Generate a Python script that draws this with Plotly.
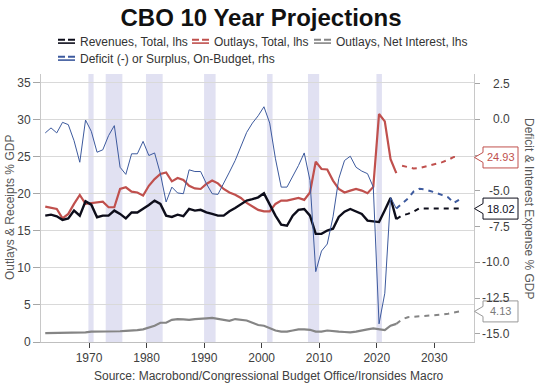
import plotly.graph_objects as go

# ---------------- data ----------------
hist_years = list(range(1962, 2024))
proj_years = list(range(2023, 2035))
outlays_proj_years = list(range(2024, 2035))

revenues_hist = [17.07, 17.2, 16.98, 16.5, 16.7, 17.75, 17.07, 19.0, 18.55, 16.85,
                 17.07, 17.07, 17.75, 17.3, 16.7, 17.5, 17.5, 17.97, 18.5, 19.1,
                 18.65, 17.07, 16.9, 17.2, 17.0, 17.97, 17.75, 17.85, 17.5, 17.3,
                 17.07, 17.07, 17.65, 18.1, 18.55, 19.1, 19.3, 19.54, 20.08, 18.65,
                 17.07, 15.86, 15.7, 17.07, 17.84, 17.97, 17.07, 14.6, 14.6, 15.05,
                 15.3, 16.9, 17.6, 17.97, 17.65, 17.3, 16.4, 16.35, 16.2, 17.8,
                 19.45, 16.6]
outlays_hist = [18.29, 18.1, 17.97, 16.7, 17.3, 18.65, 19.86, 18.65, 18.73, 18.87,
                18.96, 18.2, 18.2, 20.67, 20.9, 20.3, 20.2, 19.77, 21.1, 22.0,
                22.7, 22.9, 21.7, 22.15, 21.9, 21.1, 20.75, 20.67, 21.35, 21.8,
                21.43, 20.67, 20.2, 19.9, 19.46, 18.78, 18.29, 17.84, 17.65, 17.65,
                18.65, 19.1, 19.1, 19.3, 19.45, 19.2, 20.2, 24.36, 23.37, 23.3,
                21.8, 20.67, 20.2, 20.45, 20.67, 20.45, 20.1, 20.95, 30.8, 29.8,
                24.7, 22.8]
interest_hist = [1.2, 1.2, 1.2, 1.2, 1.2, 1.2, 1.25, 1.3, 1.4, 1.4,
                 1.35, 1.35, 1.45, 1.45, 1.5, 1.5, 1.6, 1.7, 1.9, 2.2,
                 2.6, 2.6, 3.0, 3.1, 3.05, 3.0, 3.1, 3.2, 3.2, 3.25,
                 3.1, 3.0, 2.85, 3.1, 3.0, 2.9, 2.6, 2.3, 2.2, 1.9,
                 1.55, 1.4, 1.4, 1.55, 1.7, 1.7, 1.65, 1.4, 1.4, 1.55,
                 1.45, 1.4, 1.35, 1.3, 1.4, 1.5, 1.7, 1.85, 1.75, 1.6,
                 2.2, 2.45]
deficit_hist = [-0.95, -0.6, -0.95, -0.21, -0.37, -1.49, -3.0, -0.05, -0.84, -2.3,
                -2.13, -1.14, -0.44, -3.35, -3.85, -2.41, -2.41, -1.54, -2.53, -2.35,
                -3.8, -5.78, -4.74, -5.15, -5.2, -3.53, -3.65, -3.65, -4.5, -5.2,
                -5.25, -4.5, -3.69, -2.88, -1.95, -0.91, -0.26, 0.25, 0.88, -0.26,
                -2.76, -4.74, -4.74, -3.99, -3.23, -2.35, -4.27, -10.65, -9.21, -8.72,
                -6.82, -4.15, -2.88, -2.58, -3.35, -3.62, -3.8, -4.74, -14.3, -12.16,
                -5.45, -6.24]

revenues_proj = [16.6, 17.1, 17.3, 17.6, 18.05, 18.05, 18.0, 18.0, 17.95, 18.0, 18.0, 18.02]
outlays_proj = [23.8, 23.6, 23.45, 23.5, 23.7, 23.8, 24.05, 24.3, 24.6, 25.0, 24.93]
interest_proj = [2.45, 3.05, 3.35, 3.4, 3.42, 3.45, 3.5, 3.6, 3.7, 3.82, 3.97, 4.13]
deficit_proj = [-6.24, -5.9, -5.55, -5.05, -4.85, -4.9, -5.0, -5.15, -5.3, -5.45, -5.85, -5.6]

recessions = [(1969.9, 1970.8), (1972.9, 1975.8), (1979.9, 1982.8), (1990.0, 1992.0),
              (2000.95, 2001.9), (2008.05, 2010.0), (2019.95, 2020.9)]

x_tick_vals = [1970, 1980, 1990, 2000, 2010, 2020, 2030]
left_tick_vals = [0, 5, 10, 15, 20, 25, 30, 35]
right_tick_vals = [2.5, 0.0, -2.5, -5.0, -7.5, -10.0, -12.5, -15.0]

names = ["Revenues, Total, lhs", "Outlays, Total, lhs", "Outlays, Net Interest, lhs",
         "Deficit (-) or Surplus, On-Budget, rhs"]

# ---------------- style ----------------
BLACK = "#0d0d1a"
RED = "#c0504d"
GREY = "#858585"
BLUE = "#3d5a9e"
BAND = "#e1e1f2"
FONT = "Liberation Sans, Arial, sans-serif"
TXT = "#404040"

W, H = 540, 384
L, R, T, B = 41, 474, 74, 342
X_OFF = 0.4  # annual points plotted part-way through the year
Y1_RANGE = [0, 36.2]
Y2_RANGE = [-15.57, 3.17]

def px_x(p):
    return (p - L) / (R - L)

def px_y(p):
    return (B - p) / (B - T)

def xs(years):
    return [y + X_OFF for y in years]

fig = go.Figure()

fig.add_trace(go.Scatter(x=xs(hist_years), y=deficit_hist, mode="lines", yaxis="y2",
                         line=dict(color=BLUE, width=1), name=names[3], showlegend=False))
fig.add_trace(go.Scatter(x=xs(proj_years), y=deficit_proj, mode="lines", yaxis="y2",
                         line=dict(color=BLUE, width=2, dash="5px,5px"), showlegend=False))
fig.add_trace(go.Scatter(x=xs(hist_years), y=interest_hist, mode="lines",
                         line=dict(color=GREY, width=2.2), name=names[2], showlegend=False))
fig.add_trace(go.Scatter(x=xs(proj_years), y=interest_proj, mode="lines",
                         line=dict(color=GREY, width=2, dash="5px,5px"), showlegend=False))
fig.add_trace(go.Scatter(x=xs(hist_years), y=outlays_hist, mode="lines",
                         line=dict(color=RED, width=2.2), name=names[1], showlegend=False))
fig.add_trace(go.Scatter(x=xs(outlays_proj_years), y=outlays_proj, mode="lines",
                         line=dict(color=RED, width=2, dash="5px,5px"), showlegend=False))
fig.add_trace(go.Scatter(x=xs(hist_years), y=revenues_hist, mode="lines",
                         line=dict(color=BLACK, width=2.4), name=names[0], showlegend=False))
fig.add_trace(go.Scatter(x=xs(proj_years), y=revenues_proj, mode="lines",
                         line=dict(color=BLACK, width=2, dash="5px,5px"), showlegend=False))

shapes = []
for a, b in recessions:
    shapes.append(dict(type="rect", xref="x", yref="paper", x0=a, x1=b, y0=0, y1=1,
                       fillcolor=BAND, line=dict(width=0), layer="below"))

annotations = []

# value callouts at last projection points
callouts = [(outlays_proj[-1], RED, RED), (revenues_proj[-1], BLACK, BLACK),
            (interest_proj[-1], "#999999", "#7a7a7a")]
px_per_unit = (B - T) / (Y1_RANGE[1] - Y1_RANGE[0])
hh = 10.5 / px_per_unit
dp = 5.0 / px_per_unit

# right-axis tick labels (right aligned); a label fully behind a callout box is hidden
for v in right_tick_vals:
    as_left = (v - Y2_RANGE[0]) / (Y2_RANGE[1] - Y2_RANGE[0]) * (Y1_RANGE[1] - Y1_RANGE[0])
    if any(abs(as_left - c[0]) < hh * 0.6 for c in callouts):
        continue
    annotations.append(dict(x=px_x(512), y=v, xref="paper", yref="y2", xanchor="right",
                            yanchor="middle", text=f"{v:.1f}", showarrow=False,
                            font=dict(family=FONT, size=12, color=TXT)))

for v, border, tcol in callouts:
    xt, xb, xr = px_x(474.5), px_x(483), px_x(518)
    path = (f"M {xt},{v} L {xb},{v + dp} L {xb},{v + hh} L {xr},{v + hh} "
            f"L {xr},{v - hh} L {xb},{v - hh} L {xb},{v - dp} Z")
    shapes.append(dict(type="path", xref="paper", yref="y", path=path,
                       fillcolor="white", line=dict(color=border, width=1), layer="above"))
    annotations.append(dict(x=px_x(500.5), y=v, xref="paper", yref="y", xanchor="center",
                            yanchor="middle", text=f"{v:.2f}", showarrow=False,
                            bgcolor="white", borderpad=1,
                            font=dict(family=FONT, size=11, color=tcol)))

# axis titles
annotations.append(dict(x=px_x(10), y=px_y(208), xref="paper", yref="paper",
                        text="Outlays & Receipts % GDP", textangle=-90, showarrow=False,
                        xanchor="center", yanchor="middle",
                        font=dict(family=FONT, size=12, color="#595959")))
annotations.append(dict(x=px_x(529), y=px_y(208), xref="paper", yref="paper",
                        text="Deficit & Interest Expense % GDP", textangle=90, showarrow=False,
                        xanchor="center", yanchor="middle",
                        font=dict(family=FONT, size=12, color="#595959")))

# source
annotations.append(dict(x=px_x(269), y=px_y(376), xref="paper", yref="paper",
                        text="Source: Macrobond/Congressional Budget Office/Ironsides Macro",
                        showarrow=False, xanchor="center", yanchor="middle",
                        font=dict(family=FONT, size=12, color=TXT)))

# manual legend
legend_items = [(names[0], BLACK, 58, 41.5), (names[1], RED, 192, 41.5),
                (names[2], GREY, 314, 41.5), (names[3], BLUE, 58, 58.5)]
for text, col, lx, ly in legend_items:
    shapes.append(dict(type="line", xref="paper", yref="paper", x0=px_x(lx), x1=px_x(lx + 17),
                       y0=px_y(ly - 1.8), y1=px_y(ly - 1.8),
                       line=dict(color=col, width=2, dash="7px,3px")))
    shapes.append(dict(type="line", xref="paper", yref="paper", x0=px_x(lx), x1=px_x(lx + 17),
                       y0=px_y(ly + 1.6), y1=px_y(ly + 1.6),
                       line=dict(color=col, width=1.6)))
    annotations.append(dict(x=px_x(lx + 20), y=px_y(ly), xref="paper", yref="paper",
                            text=text, showarrow=False, xanchor="left", yanchor="middle",
                            font=dict(family=FONT, size=12, color="#333333")))

fig.update_layout(
    width=W, height=H,
    margin=dict(l=L, r=W - R, t=T, b=H - B, autoexpand=False),
    paper_bgcolor="white", plot_bgcolor="white",
    showlegend=False,
    title=dict(text="<b>CBO 10 Year Projections</b>", x=px_x(261), xref="paper",
               xanchor="center", y=1 - 18 / H, yref="container", yanchor="middle",
               font=dict(family=FONT, size=24, color="#111111")),
    font=dict(family=FONT, size=12, color=TXT),
    xaxis=dict(range=[1961.66, 2036.9], tickvals=x_tick_vals, ticks="outside", ticklen=5,
               tickcolor="#404040", showline=True, linecolor="#bfbfbf", showgrid=False,
               zeroline=False, tickfont=dict(family=FONT, size=12, color=TXT)),
    yaxis=dict(range=Y1_RANGE, tickvals=left_tick_vals, ticks="outside", ticklen=7,
               tickcolor="#a6a6a6", showline=True, linecolor="#c8c8c8", showgrid=True,
               gridcolor="#d9d9d9", gridwidth=1, zeroline=False,
               tickfont=dict(family=FONT, size=12, color=TXT)),
    yaxis2=dict(range=Y2_RANGE, overlaying="y", side="right", tickvals=right_tick_vals,
                ticks="outside", ticklen=5, tickcolor="#a6a6a6", showticklabels=False,
                showline=True, linecolor="#c8c8c8", showgrid=False, zeroline=False),
    shapes=shapes,
    annotations=annotations,
)

fig.write_html("out.html", config={"displayModeBar": False},
               post_script="document.body.style.margin='0';")
